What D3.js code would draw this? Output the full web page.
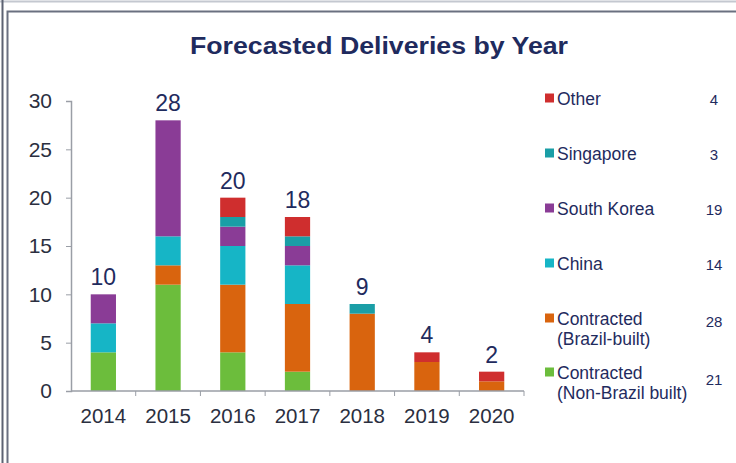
<!DOCTYPE html>
<html>
<head>
<meta charset="utf-8">
<script src="https://cdn.jsdelivr.net/npm/d3@7"></script>
<style>
  html, body { margin: 0; padding: 0; background: #fff; }
  svg { display: block; font-family: Arial, "Liberation Sans", sans-serif; }
</style>
</head>
<body>
<svg id="chart" width="736" height="463"></svg>
<script>
// Delivery years on the x axis
const years = ["2014", "2015", "2016", "2017", "2018", "2019", "2020"];

// Series, stacked from the bottom up
const seriesNames = ["Contracted (Non-Brazil built)", "Contracted (Brazil-built)", "China", "South Korea", "Singapore", "Other"];
const nonBrazil   = [4, 11, 4, 2, 0, 0, 0];
const brazilBuilt = [0, 2, 7, 7, 8, 3, 1];
const china       = [3, 3, 4, 4, 0, 0, 0];
const southKorea  = [3, 12, 2, 2, 0, 0, 0];
const singapore   = [0, 0, 1, 1, 1, 0, 0];
const other       = [0, 0, 2, 2, 0, 1, 1];

// Legend (top to bottom) and the totals printed beside it
const legendLabels = [["Other"], ["Singapore"], ["South Korea"], ["China"], ["Contracted", "(Brazil-built)"], ["Contracted", "(Non-Brazil built)"]];
const legendKeys   = ["Other", "Singapore", "South Korea", "China", "Contracted (Brazil-built)", "Contracted (Non-Brazil built)"];
const legendTotals = [4, 3, 19, 14, 28, 21];

const yTicks = [0, 5, 10, 15, 20, 25, 30];

const colors = {
  "Contracted (Non-Brazil built)": "#6cbd3c",
  "Contracted (Brazil-built)": "#d9640e",
  "China": "#16b5c6",
  "South Korea": "#8a3c96",
  "Singapore": "#1a9ea6",
  "Other": "#cf2e2e"
};

const navy = "#1f2b5e";
const textGrey = "#2b2f40";

const seriesData = [nonBrazil, brazilBuilt, china, southKorea, singapore, other];
const rows = years.map((y, i) => {
  const r = { year: y };
  seriesNames.forEach((s, k) => r[s] = seriesData[k][i]);
  return r;
});

const svg = d3.select("#chart");

// Frame lines
svg.append("line").attr("x1", 0).attr("x2", 736).attr("y1", 1.5).attr("y2", 1.5)
  .attr("stroke", "#c4c8d0").attr("stroke-width", 2);
svg.append("line").attr("x1", 2.5).attr("x2", 2.5).attr("y1", 0).attr("y2", 463)
  .attr("stroke", "#5c6272").attr("stroke-width", 2);
svg.append("path").attr("d", "M7.5,463 V11.5 H736")
  .attr("fill", "none").attr("stroke", "#6a7080").attr("stroke-width", 2);

// Title
svg.append("text").attr("x", 379).attr("y", 54).attr("text-anchor", "middle")
  .attr("font-size", 24).attr("font-weight", "bold").attr("fill", navy)
  .attr("textLength", 378).attr("lengthAdjust", "spacingAndGlyphs")
  .text("Forecasted Deliveries by Year");

const x = d3.scaleBand().domain(years).range([71, 524]).paddingInner(0.61).paddingOuter(0.305);
const y = d3.scaleLinear().domain([0, 30]).range([391, 101]);

const stack = d3.stack().keys(seriesNames)(rows);

// Bars
const g = svg.append("g");
stack.forEach(layer => {
  g.append("g").attr("fill", colors[layer.key])
    .selectAll("rect").data(layer.filter(d => d[1] > d[0])).join("rect")
    .attr("x", d => x(d.data.year))
    .attr("width", x.bandwidth())
    .attr("y", d => y(d[1]))
    .attr("height", d => y(d[0]) - y(d[1]));
});

// Y axis
const yAxis = svg.append("g").attr("transform", "translate(71,0)")
  .call(d3.axisLeft(y).tickValues(yTicks).tickSize(5).tickPadding(14));
yAxis.select(".domain").attr("stroke", "#9a9ea6").attr("stroke-width", 1.5);
yAxis.selectAll(".tick line").attr("stroke", "#9a9ea6");
yAxis.selectAll(".tick text").attr("font-size", 21).attr("fill", textGrey)
  .attr("font-family", "Arial, 'Liberation Sans', sans-serif");

// X axis: ticks sit between categories
const xAxisG = svg.append("g").attr("transform", "translate(0,391)");
xAxisG.append("line").attr("x1", 71).attr("x2", 524).attr("stroke", "#9a9ea6").attr("stroke-width", 1.5);
const step = x.step();
const boundaries = years.slice(1).map(yr => x(yr) - (step - x.bandwidth()) / 2).concat([524]);
xAxisG.selectAll(".xt").data(boundaries).join("line")
  .attr("x1", d => d).attr("x2", d => d).attr("y1", 0).attr("y2", 5)
  .attr("stroke", "#9a9ea6");
xAxisG.selectAll(".xl").data(years).join("text")
  .attr("x", d => x(d) + x.bandwidth() / 2).attr("y", 32)
  .attr("text-anchor", "middle").attr("font-size", 20.5).attr("fill", textGrey)
  .text(d => d);

// Totals above bars
const totals = rows.map(r => seriesNames.reduce((s, k) => s + r[k], 0));
svg.selectAll(".tot").data(years).join("text")
  .attr("x", d => x(d) + x.bandwidth() / 2)
  .attr("y", (d, i) => y(totals[i]) - 9)
  .attr("text-anchor", "middle").attr("font-size", 23).attr("fill", navy)
  .text((d, i) => totals[i]);

// Legend
const legendY = [98, 153, 208, 263, 318, 372];
const totalY  = [100, 155, 210, 265, 322, 380];
const lg = svg.append("g");
legendKeys.forEach((k, i) => {
  const yy = legendY[i];
  lg.append("rect").attr("x", 545).attr("y", yy - 4.5).attr("width", 9).attr("height", 9)
    .attr("fill", colors[k]);
  legendLabels[i].forEach((line, j) => {
    lg.append("text").attr("x", 557).attr("y", yy + 6.5 + j * 20)
      .attr("font-size", 17.5).attr("fill", navy).text(line);
  });
  lg.append("text").attr("x", 714).attr("y", totalY[i] + 5)
    .attr("text-anchor", "middle").attr("font-size", 15).attr("fill", navy)
    .text(legendTotals[i]);
});
</script>
</body>
</html>
